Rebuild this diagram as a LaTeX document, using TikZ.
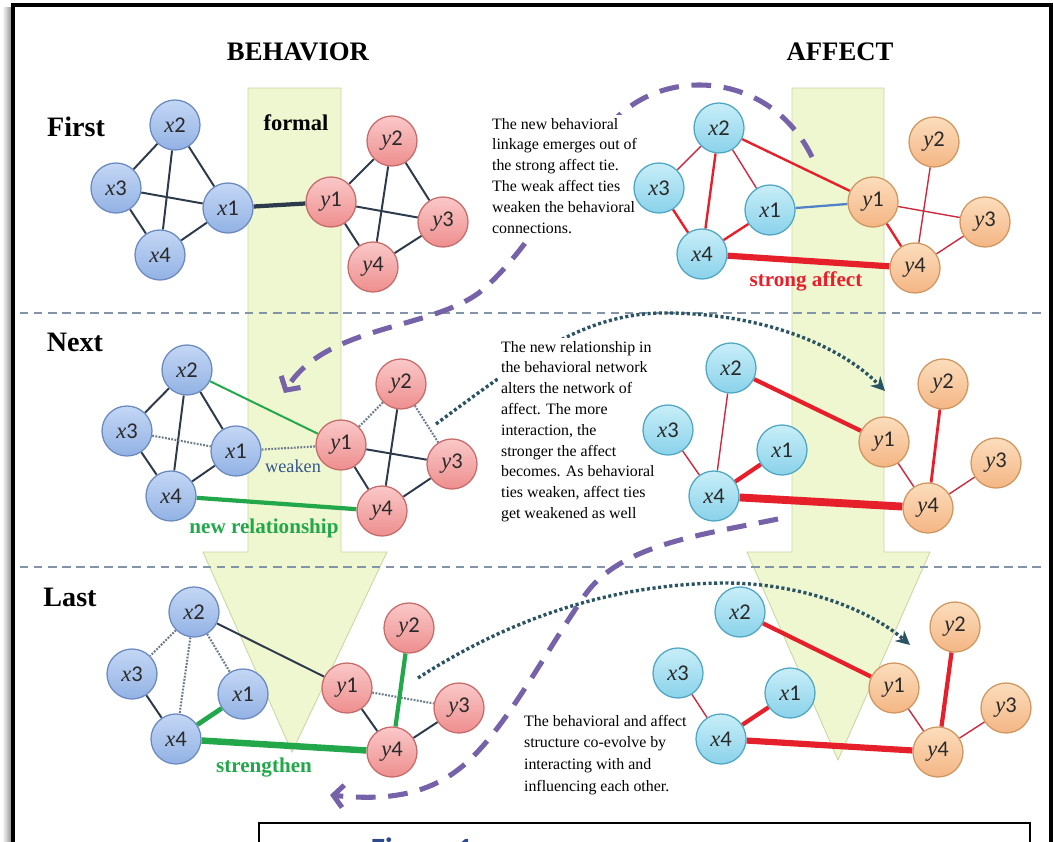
\documentclass[tikz,border=0pt]{standalone}
\usepackage{fontspec}
\setmainfont{Liberation Serif}
\newfontfamily\digitfont{Carlito}
\usetikzlibrary{arrows.meta}
\pgfdeclarelayer{back}
\pgfdeclarelayer{flows}
\pgfdeclarelayer{notes}
\pgfdeclarelayer{links}
\pgfsetlayers{back,flows,notes,links,main}

\definecolor{bxtop}{HTML}{C4D7F5}\definecolor{bxbot}{HTML}{92B2E4}\definecolor{bxline}{HTML}{6A89BF}
\definecolor{bytop}{HTML}{FAC8C8}\definecolor{bybot}{HTML}{EE8E8E}\definecolor{byline}{HTML}{C76A6A}
\definecolor{axtop}{HTML}{C8EEF8}\definecolor{axbot}{HTML}{8AD2EA}\definecolor{axline}{HTML}{4FA6C2}
\definecolor{aytop}{HTML}{FCDDBD}\definecolor{aybot}{HTML}{F4B684}\definecolor{ayline}{HTML}{D09660}
\definecolor{linkdark}{HTML}{2C3A4C}\definecolor{linkdot}{HTML}{6C7C8A}
\definecolor{linkgreen}{HTML}{22A84A}\definecolor{linkred}{HTML}{E6202B}\definecolor{linkredthin}{HTML}{CC2A40}
\definecolor{linkblue}{HTML}{4F80C8}
\definecolor{palearrow}{HTML}{EFF7D0}\definecolor{palearrowline}{HTML}{C8D6A4}
\definecolor{sepline}{HTML}{8394A8}
\definecolor{purpleflow}{HTML}{7662A8}\definecolor{tealflow}{HTML}{2A5464}
\definecolor{weakenblue}{HTML}{34578A}\definecolor{captionblue}{HTML}{2E4A8C}
\definecolor{labelink}{HTML}{2A2A2A}

\newcommand\vl[2]{\textit{#1}{\digitfont #2}}

\tikzset{
  vnode/.style={circle, minimum size=1.25cm, inner sep=0pt, line width=0.9pt,
    text=labelink, font=\fontsize{16}{16}\selectfont},
  bx/.style={vnode, draw=bxline, top color=bxtop, bottom color=bxbot},
  by/.style={vnode, draw=byline, top color=bytop, bottom color=bybot},
  ax/.style={vnode, draw=axline, top color=axtop, bottom color=axbot},
  ay/.style={vnode, draw=ayline, top color=aytop, bottom color=aybot},
  be/.style={draw=linkdark, line width=1.4pt},
  bdot/.style={draw=linkdot, line width=1.5pt, dash pattern=on 1.3pt off 1pt},
  bthick/.style={draw=linkdark, line width=3pt},
  gthin/.style={draw=linkgreen, line width=1.4pt},
  gthick/.style={draw=linkgreen, line width=3pt},
  gvthick/.style={draw=linkgreen, line width=4.6pt},
  rthin/.style={draw=linkredthin, line width=1pt},
  rmed/.style={draw=linkred, line width=1.7pt},
  rthick/.style={draw=linkred, line width=3pt},
  rvthick/.style={draw=linkred, line width=4.4pt},
  bluelink/.style={draw=linkblue, line width=1.6pt},
  heading/.style={font=\fontsize{19}{22}\selectfont\bfseries},
  stage/.style={font=\fontsize{20}{22}\selectfont\bfseries},
  tag/.style={font=\fontsize{15}{17}\selectfont\bfseries},
  note/.style={anchor=north west, align=left, fill=white, inner sep=2pt,
    font=\fontsize{11.3}{14.8}\selectfont},
  purpleflowline/.style={draw=purpleflow, line width=3.6pt, dash pattern=on 14pt off 9pt,
    -{Straight Barb[length=7pt,width=16pt]}},
  tealflowline/.style={draw=tealflow, line width=2.4pt, dash pattern=on 2.2pt off 1.8pt,
    -{Stealth[length=10pt,width=10pt]}},
  sep/.style={draw=sepline, line width=1.2pt, dash pattern=on 6pt off 4pt},
  palebox/.style={fill=palearrow, draw=palearrowline, line width=0.6pt}
}

\begin{document}
\begin{tikzpicture}[x=0.025cm, y=-0.025cm]
\useasboundingbox (0,0) rectangle (1053,842);

\begin{pgfonlayer}{back}
  % page frame with its shadow
  \fill[left color=white, right color=black!45] (2,7) rectangle (12,842);
  \draw[line width=2.2pt] (13,845) -- (13,5) -- (1051,5) -- (1051,845);
  % the two pale downward arrows
  \path[palebox] (248,88) -- (341,88) -- (341,552) -- (387,552) -- (292,752)
     -- (203,552) -- (248,552) -- cycle;
  \path[palebox] (792,88) -- (884,88) -- (884,552) -- (930,552) -- (838,760)
     -- (747,552) -- (792,552) -- cycle;
  % stage separators
  \draw[sep] (20,313) -- (1042,313);
  \draw[sep] (20,567) -- (1042,567);
\end{pgfonlayer}

% flows between the two networks
\begin{pgfonlayer}{flows}
\draw[purpleflowline] (812,157) .. controls (770,70) and (660,65) .. (610,125)
   .. controls (560,185) and (530,250) .. (480,292)
   .. controls (430,330) and (325,325) .. (284,393);
\draw[purpleflowline] (778,519) .. controls (700,535) and (620,545) .. (585,595)
   .. controls (540,660) and (500,740) .. (455,772)
   .. controls (420,797) and (380,800) .. (330,795);
\draw[tealflowline] (436,424) .. controls (520,362) and (580,315) .. (660,313)
   .. controls (760,312) and (840,345) .. (885,391);
\draw[tealflowline] (418,678) .. controls (500,625) and (600,585) .. (720,583)
   .. controls (800,582) and (870,610) .. (910,645);
\end{pgfonlayer}

% explanations, set on white so the flows pass behind them
\begin{pgfonlayer}{notes}
\node[note] (note1) at (489,115)
  {The new behavioral\\linkage emerges out of\\the strong affect tie.\\The weak affect ties\\weaken the behavioral\\connections.};
\node[note] (note2) at (498,338)
  {The new relationship in\\the behavioral network\\alters the network of\\affect. The more\\interaction, the\\stronger the affect\\becomes. As behavioral\\ties weaken, affect ties\\get weakened as well};
\node[note, font=\fontsize{11.3}{15.4}\selectfont] (note3) at (521,712)
  {The behavioral and affect\\structure co-evolve by\\interacting with and\\influencing each other.};
\end{pgfonlayer}

% headings
\node[heading] (hbeh) at (298,52) {BEHAVIOR};
\node[heading] (haff) at (840,52) {AFFECT};
\node[stage] (sfirst) at (76,127) {First};
\node[stage] (snext) at (75,342) {Next};
\node[stage] (slast) at (70,597) {Last};
\node[font=\fontsize{16}{18}\selectfont\bfseries] (formal) at (296,123) {formal};

% ---------- First: behaviour ----------
\node[bx] (fbx2) at (175,125) {\vl{x}{2}};
\node[bx] (fbx3) at (116,188) {\vl{x}{3}};
\node[bx] (fbx1) at (228,208) {\vl{x}{1}};
\node[bx] (fbx4) at (160,255) {\vl{x}{4}};
\node[by] (fby1) at (331,202) {\vl{y}{1}};
\node[by] (fby2) at (392,141) {\vl{y}{2}};
\node[by] (fby3) at (443,222) {\vl{y}{3}};
\node[by] (fby4) at (373,267) {\vl{y}{4}};
% ---------- First: affect ----------
\node[ax] (fax2) at (719,128) {\vl{x}{2}};
\node[ax] (fax3) at (659,188) {\vl{x}{3}};
\node[ax] (fax1) at (770,210) {\vl{x}{1}};
\node[ax] (fax4) at (702,254) {\vl{x}{4}};
\node[ay] (fay1) at (873,202) {\vl{y}{1}};
\node[ay] (fay2) at (934,142) {\vl{y}{2}};
\node[ay] (fay3) at (985,222) {\vl{y}{3}};
\node[ay] (fay4) at (915,268) {\vl{y}{4}};

% ---------- Next: behaviour ----------
\node[bx] (nbx2) at (187,370) {\vl{x}{2}};
\node[bx] (nbx3) at (127,431) {\vl{x}{3}};
\node[bx] (nbx1) at (236,451) {\vl{x}{1}};
\node[bx] (nbx4) at (171,496) {\vl{x}{4}};
\node[by] (nby1) at (341,445) {\vl{y}{1}};
\node[by] (nby2) at (401,384) {\vl{y}{2}};
\node[by] (nby3) at (452,464) {\vl{y}{3}};
\node[by] (nby4) at (382,511) {\vl{y}{4}};
% ---------- Next: affect ----------
\node[ax] (nax2) at (731,368) {\vl{x}{2}};
\node[ax] (nax3) at (668,430) {\vl{x}{3}};
\node[ax] (nax1) at (782,450) {\vl{x}{1}};
\node[ax] (nax4) at (714,496) {\vl{x}{4}};
\node[ay] (nay1) at (884,442) {\vl{y}{1}};
\node[ay] (nay2) at (943,384) {\vl{y}{2}};
\node[ay] (nay3) at (996,463) {\vl{y}{3}};
\node[ay] (nay4) at (928,508) {\vl{y}{4}};

% ---------- Last: behaviour ----------
\node[bx] (lbx2) at (194,612) {\vl{x}{2}};
\node[bx] (lbx3) at (132,674) {\vl{x}{3}};
\node[bx] (lbx1) at (243,694) {\vl{x}{1}};
\node[bx] (lbx4) at (176,739) {\vl{x}{4}};
\node[by] (lby1) at (347,688) {\vl{y}{1}};
\node[by] (lby2) at (409,628) {\vl{y}{2}};
\node[by] (lby3) at (459,708) {\vl{y}{3}};
\node[by] (lby4) at (392,752) {\vl{y}{4}};
% ---------- Last: affect ----------
\node[ax] (lax2) at (740,612) {\vl{x}{2}};
\node[ax] (lax3) at (678,673) {\vl{x}{3}};
\node[ax] (lax1) at (790,693) {\vl{x}{1}};
\node[ax] (lax4) at (721,739) {\vl{x}{4}};
\node[ay] (lay1) at (894,688) {\vl{y}{1}};
\node[ay] (lay2) at (955,627) {\vl{y}{2}};
\node[ay] (lay3) at (1006,708) {\vl{y}{3}};
\node[ay] (lay4) at (938,752) {\vl{y}{4}};

\begin{pgfonlayer}{links}
  % First, behaviour
  \draw[be] (fbx2) -- (fbx3);  \draw[be] (fbx2) -- (fbx4);  \draw[be] (fbx2) -- (fbx1);
  \draw[be] (fbx3) -- (fbx1);  \draw[be] (fbx3) -- (fbx4);  \draw[be] (fbx4) -- (fbx1);
  \draw[bthick] (fbx1) -- (fby1);
  \draw[be] (fby1) -- (fby2);  \draw[be] (fby2) -- (fby4);  \draw[be] (fby2) -- (fby3);
  \draw[be] (fby1) -- (fby3);  \draw[be] (fby1) -- (fby4);  \draw[be] (fby4) -- (fby3);
  % First, affect
  \draw[rthin] (fax2) -- (fax3); \draw[rmed] (fax2) -- (fax4); \draw[rthin] (fax2) -- (fax1);
  \draw[rmed] (fax2) -- (fay1);  \draw[rmed] (fax3) -- (fax4); \draw[rmed] (fax4) -- (fax1);
  \draw[bluelink] (fax1) -- (fay1);
  \draw[rvthick] (fax4) -- (fay4);
  \draw[rthin] (fay1) -- (fay3); \draw[rmed] (fay1) -- (fay4); \draw[rthin] (fay2) -- (fay4);
  \draw[rthin] (fay3) -- (fay4);
  % Next, behaviour
  \draw[be] (nbx2) -- (nbx3);  \draw[be] (nbx2) -- (nbx4);  \draw[be] (nbx2) -- (nbx1);
  \draw[bdot] (nbx3) -- (nbx1); \draw[be] (nbx3) -- (nbx4); \draw[be] (nbx4) -- (nbx1);
  \draw[bdot] (nbx1) -- (nby1); \draw[gthin] (nbx2) -- (nby1); \draw[gthick] (nbx4) -- (nby4);
  \draw[bdot] (nby1) -- (nby2); \draw[bdot] (nby2) -- (nby3); \draw[be] (nby2) -- (nby4);
  \draw[be] (nby1) -- (nby3);  \draw[be] (nby1) -- (nby4);  \draw[be] (nby3) -- (nby4);
  % Next, affect
  \draw[rthin] (nax2) -- (nax4); \draw[rthick] (nax2) -- (nay1); \draw[rthin] (nax3) -- (nax4);
  \draw[rthick] (nax4) -- (nax1);
  \draw[draw=linkred, line width=5.6pt] (nax4) -- (nay4);
  \draw[rthin] (nay1) -- (nay4); \draw[draw=linkred, line width=2pt] (nay2) -- (nay4);
  \draw[rthin] (nay3) -- (nay4);
  % Last, behaviour
  \draw[bdot] (lbx2) -- (lbx3); \draw[bdot] (lbx2) -- (lbx4); \draw[bdot] (lbx2) -- (lbx1);
  \draw[be] (lbx2) -- (lby1);  \draw[be] (lbx3) -- (lbx4);
  \draw[draw=linkgreen, line width=3.4pt] (lbx4) -- (lbx1);
  \draw[gvthick] (lbx4) -- (lby4);
  \draw[bdot] (lby1) -- (lby3); \draw[be] (lby1) -- (lby4); \draw[gthick] (lby2) -- (lby4);
  \draw[be] (lby3) -- (lby4);
  % Last, affect
  \draw[rthick] (lax2) -- (lay1); \draw[rthin] (lax3) -- (lax4); \draw[rthick] (lax4) -- (lax1);
  \draw[rvthick] (lax4) -- (lay4);
  \draw[rthin] (lay1) -- (lay4); \draw[rthick] (lay2) -- (lay4); \draw[rthin] (lay3) -- (lay4);
\end{pgfonlayer}

% link captions
\node[tag, text=linkred] (tstrong) at (806,281) {strong affect};
\node[tag, text=linkgreen] (tnew) at (264,528) {new relationship};
\node[tag, text=linkgreen] (tstrength) at (264,768) {strengthen};
\node[text=weakenblue, font=\fontsize{13}{15}\selectfont] (tweaken) at (293,466) {weaken};

% caption box running off the bottom edge
\begin{scope}
  \clip (0,0) rectangle (1053,842);
  \draw[line width=1.8pt] (259,860) -- (259,823) -- (1030,823) -- (1030,860);
  \node[anchor=base west, text=captionblue, font=\digitfont\fontsize{22}{24}\selectfont\bfseries]
    (caption) at (366,859) {Figure 1};
\end{scope}
\end{tikzpicture}
\end{document}
